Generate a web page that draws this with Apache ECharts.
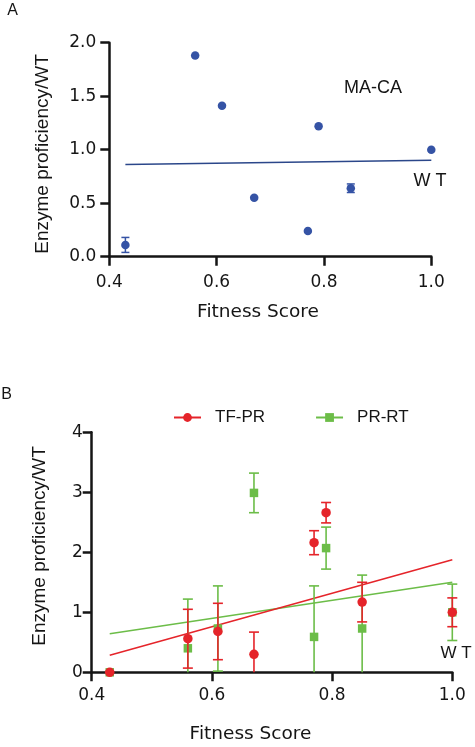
<!DOCTYPE html>
<html><head><meta charset="utf-8">
<script src="https://cdn.jsdelivr.net/npm/echarts@6/dist/echarts.min.js"></script>
<style>html,body{margin:0;padding:0;background:#fff}#c{width:475px;height:747px}</style>
</head><body><div id="c"></div>
<script>
// ---- Data ----
const fitnessA = [0.43, 0.56, 0.61, 0.67, 0.77, 0.79, 0.85, 1.00];
const macaVal  = [0.11, 1.88, 1.41, 0.55, 0.24, 1.22, 0.64, 1.00];
const macaErr  = [0.07, 0, 0, 0, 0, 0, 0.04, 0];

const fitnessB = [0.43, 0.56, 0.61, 0.67, 0.77, 0.79, 0.85, 1.00];
const tfprVal  = [0.00, 0.56, 0.68, 0.30, 2.16, 2.66, 1.17, 1.00];
const tfprErr  = [0.00, 0.49, 0.47, 0.37, 0.20, 0.17, 0.33, 0.24];
const prrtVal  = [0.00, 0.40, 0.73, 2.99, 0.59, 2.07, 0.73, 1.00];
const prrtErr  = [0.00, 0.82, 0.71, 0.33, 0.85, 0.35, 0.89, 0.47];

const seriesNames = ['TF-PR', 'PR-RT'];
const xTickLabels = ['0.4', '0.6', '0.8', '1.0'];
const yTickLabelsA = ['0.0', '0.5', '1.0', '1.5', '2.0'];
const yTickLabelsB = ['0', '1', '2', '3', '4'];

// ---- helpers ----
function olsFit(xs, ys) {
  const n = xs.length;
  const mx = xs.reduce((a, b) => a + b, 0) / n;
  const my = ys.reduce((a, b) => a + b, 0) / n;
  let sxy = 0, sxx = 0;
  for (let i = 0; i < n; i++) { sxy += (xs[i] - mx) * (ys[i] - my); sxx += (xs[i] - mx) ** 2; }
  const b = sxy / sxx, a = my - b * mx;
  const x0 = Math.min(...xs), x1 = Math.max(...xs);
  return [[x0, a + b * x0], [x1, a + b * x1]];
}
function errRender(capW, color, lw) {
  return function (params, api) {
    const x = api.value(0), y = api.value(1), e = api.value(2);
    if (!e) return;
    const low = y - e;
    const top = api.coord([x, y + e]);
    const bot = api.coord([x, Math.max(low, 0)]);
    const st = { stroke: color, lineWidth: lw };
    const ch = [
      { type: 'line', shape: { x1: top[0], y1: top[1], x2: bot[0], y2: bot[1] }, style: st },
      { type: 'line', shape: { x1: top[0] - capW / 2, y1: top[1], x2: top[0] + capW / 2, y2: top[1] }, style: st }
    ];
    if (low >= 0) ch.push({ type: 'line', shape: { x1: bot[0] - capW / 2, y1: bot[1], x2: bot[0] + capW / 2, y2: bot[1] }, style: st });
    return { type: 'group', children: ch };
  };
}
const zip3 = (xs, ys, es) => xs.map((x, i) => [x, ys[i], es[i]]);
const zip2 = (xs, ys) => xs.map((x, i) => [x, ys[i]]);

const FONT = 'Liberation Sans, Arial, Helvetica, sans-serif';
const WIDE = 'DejaVu Sans, Liberation Sans, sans-serif';
const INK = '#151515';
const BLUE = '#3553a5', BLUE_LINE = '#2b478a';
const RED = '#e5242a', GREEN = '#6cbd48';

function xAxisCfg(gi, margin) {
  return {
    type: 'value', gridIndex: gi, min: 0.4, max: 1.0, interval: 0.2,
    axisLine: { show: true, onZero: false, lineStyle: { color: INK, width: 2.5 } },
    axisTick: { show: true, length: 9, lineStyle: { color: INK, width: 2.5 } },
    axisLabel: { color: INK, fontSize: 17, fontFamily: WIDE, margin: margin,
      formatter: v => xTickLabels[Math.round((v - 0.4) / 0.2)] },
    splitLine: { show: false }
  };
}
function yAxisCfg(gi, max, interval, labels, margin) {
  return {
    type: 'value', gridIndex: gi, min: 0, max: max, interval: interval,
    axisLine: { show: true, onZero: false, lineStyle: { color: INK, width: 2.5 } },
    axisTick: { show: true, length: 9, lineStyle: { color: INK, width: 2.5 } },
    axisLabel: { color: INK, fontSize: 17, fontFamily: WIDE, margin: margin,
      formatter: v => labels[Math.round(v / interval)] },
    splitLine: { show: false }
  };
}
function txt(text, x, y, size, opts, fam) {
  return Object.assign({
    type: 'text', x: x, y: y, silent: true,
    style: { text: text, fill: INK, font: size + 'px ' + (fam || FONT), textAlign: 'center', textVerticalAlign: 'middle' }
  }, opts || {});
}

const chart = echarts.init(document.getElementById('c'), null, { renderer: 'canvas' });
chart.setOption({
  animation: false,
  backgroundColor: '#fff',
  grid: [
    { left: 109.3, top: 42.7, width: 322, height: 214, containLabel: false },
    { left: 91.7, top: 432.3, width: 360.6, height: 240, containLabel: false }
  ],
  xAxis: [xAxisCfg(0, 17), xAxisCfg(1, 15)],
  yAxis: [yAxisCfg(0, 2, 0.5, yTickLabelsA, 13), yAxisCfg(1, 4, 1, yTickLabelsB, 9)],
  legend: {
    data: seriesNames, left: 173, top: 409, padding: 0, itemWidth: 27, itemHeight: 11, itemGap: 50,
    textStyle: { color: INK, fontSize: 17, fontFamily: FONT, padding: [0, 0, 0, 9] }
  },
  graphic: [
    txt('A', 12.5, 11, 16),
    txt('B', 6.5, 395, 16),
    txt('MA-CA', 373, 88.5, 18),
    txt('W T', 430, 181.5, 18),
    txt('W T', 456, 653, 17),
    txt('Fitness Score', 258, 312, 18.5, null, WIDE),
    txt('Fitness Score', 250.5, 734, 18.5, null, WIDE),
    txt('Enzyme proficiency/WT', 42.5, 154, 19, { rotation: Math.PI / 2 }),
    txt('Enzyme proficiency/WT', 40, 546, 19, { rotation: Math.PI / 2 })
  ],
  series: [
    // Panel A
    { type: 'line', name: 'MA-CA fit', xAxisIndex: 0, yAxisIndex: 0, data: olsFit(fitnessA, macaVal),
      showSymbol: false, symbol: 'none', lineStyle: { color: BLUE_LINE, width: 1.3 }, z: 2 },
    { type: 'custom', xAxisIndex: 0, yAxisIndex: 0, data: zip3(fitnessA, macaVal, macaErr),
      renderItem: errRender(8, BLUE, 1.5), encode: { x: 0, y: 1 }, z: 3 },
    { type: 'scatter', name: 'MA-CA', xAxisIndex: 0, yAxisIndex: 0, data: zip2(fitnessA, macaVal),
      symbol: 'circle', symbolSize: 8.5, itemStyle: { color: BLUE, opacity: 1 }, clip: false, z: 4 },
    // Panel B fits (also legend entries)
    { type: 'line', name: 'PR-RT', xAxisIndex: 1, yAxisIndex: 1, data: olsFit(fitnessB, prrtVal),
      showSymbol: false, symbol: 'rect', symbolSize: 8, itemStyle: { color: GREEN },
      lineStyle: { color: GREEN, width: 1.5 }, z: 2 },
    { type: 'line', name: 'TF-PR', xAxisIndex: 1, yAxisIndex: 1, data: olsFit(fitnessB, tfprVal),
      showSymbol: false, symbol: 'circle', symbolSize: 9, itemStyle: { color: RED },
      lineStyle: { color: RED, width: 1.5 }, z: 2 },
    // PR-RT points
    { type: 'custom', xAxisIndex: 1, yAxisIndex: 1, data: zip3(fitnessB, prrtVal, prrtErr),
      renderItem: errRender(10, GREEN, 1.6), encode: { x: 0, y: 1 }, z: 3 },
    { type: 'scatter', name: 'PR-RT pts', xAxisIndex: 1, yAxisIndex: 1, data: zip2(fitnessB, prrtVal),
      symbol: 'rect', symbolSize: 8.5, itemStyle: { color: GREEN, opacity: 1 }, clip: false, z: 4 },
    // TF-PR points
    { type: 'custom', xAxisIndex: 1, yAxisIndex: 1, data: zip3(fitnessB, tfprVal, tfprErr),
      renderItem: errRender(10, RED, 1.6), encode: { x: 0, y: 1 }, z: 5 },
    { type: 'scatter', name: 'TF-PR pts', xAxisIndex: 1, yAxisIndex: 1, data: zip2(fitnessB, tfprVal),
      symbol: 'circle', symbolSize: 9.5, itemStyle: { color: RED, opacity: 1 }, clip: false, z: 6 }
  ]
});
</script>
</body></html>
